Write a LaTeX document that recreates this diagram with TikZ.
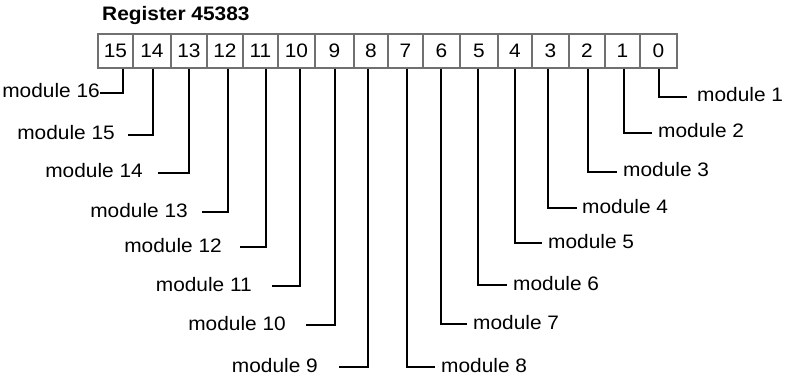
\documentclass[tikz,border=0pt]{standalone}
\usepackage{fontspec}
\setmainfont{Liberation Sans}[FakeStretch=1.07]
\definecolor{cellgray}{HTML}{707070}
\begin{document}
\begin{tikzpicture}[x=1pt,y=-1pt,
  cell/.style={draw=cellgray, line width=1.5pt, minimum height=34pt, inner sep=0pt, text height=14pt, text depth=0pt},
  lbl/.style={inner sep=0pt, text height=12pt, text depth=2pt},
  pin/.style={line width=2pt, black}]
\fontsize{19.5}{23}\selectfont
\useasboundingbox (0,0) rectangle (798,377);
\node[anchor=base west, font=\bfseries, inner sep=0pt] (title) at (102,20.7) {Register 45383};
\foreach \n/\l/\r in {15/98/133,14/133/171,13/171/207,12/207/243,11/243/278,10/278/315,9/315/354,8/354/388,7/388/423,6/423/460,5/460/498,4/498/532,3/532/569,2/569/605,1/605/640,0/640/677}
  \node[cell, minimum width={(\r-\l)*1pt}] (c\n) at ({(\l+\r)/2},51) {\n};
% right-side labels
\foreach \n/\px/\m/\ex/\y/\tx in {0/659/1/687/97/697,1/624/2/652/133/658,2/588/3/617/172/623,3/548/4/577/208/582,4/515/5/542/243/548,5/478/6/507/285/513,6/441/7/467/324/473,7/407/8/435/367/441}{
  \coordinate (p\n) at (\px,68);
  \coordinate (e\m) at (\ex,\y);
  \node[lbl, anchor=west] (m\m) at (\tx,\y) {module \m};
  \draw[pin] (c\n.south -| p\n) |- (e\m);
}
% left-side labels
\foreach \n/\px/\m/\ex/\y/\tx in {15/123/16/100/93/100,14/153/15/128/135/115,13/189/14/158/173/143,12/228/13/202/212/188,11/266/12/240/247/222,10/300/11/272/286/252,9/335/10/306/325/286,8/368/9/339/367/318}{
  \coordinate (p\n) at (\px,68);
  \coordinate (e\m) at (\ex,\y);
  \node[lbl, anchor=east] (m\m) at (\tx,\y) {module \m};
  \draw[pin] (c\n.south -| p\n) |- (e\m);
}
\end{tikzpicture}
\end{document}
